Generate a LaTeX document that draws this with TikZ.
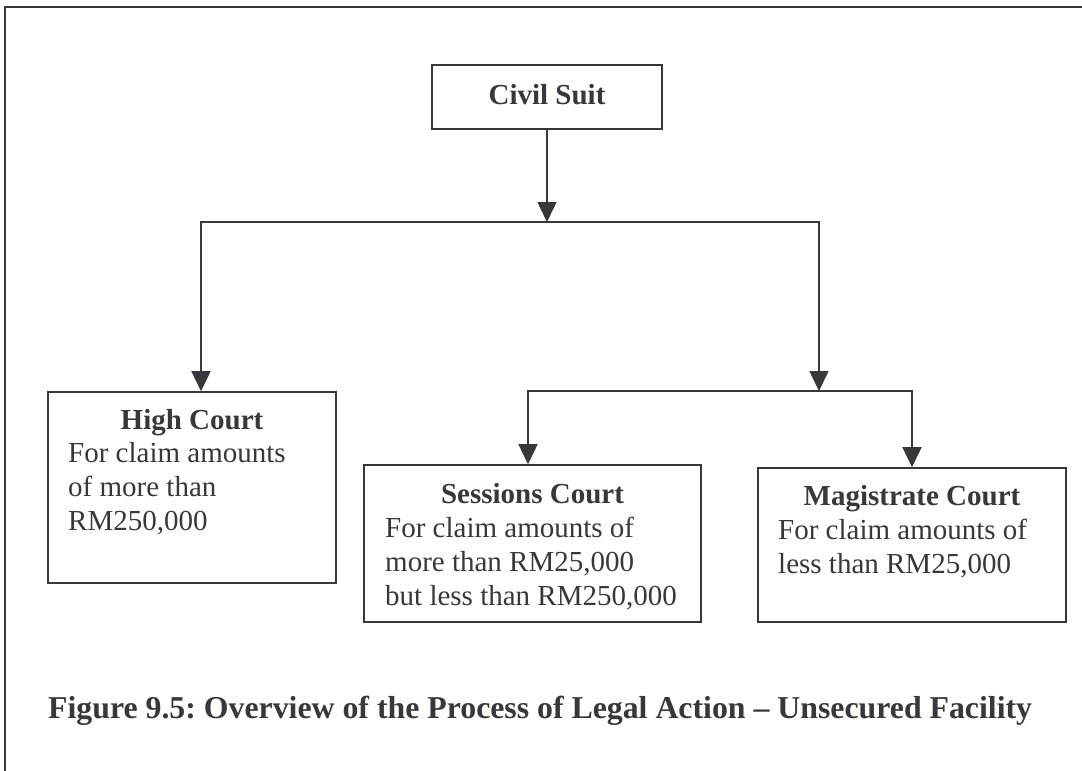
\documentclass[tikz,border=0pt]{standalone}
\usepackage{fontspec}
\setmainfont{Liberation Serif}
\usetikzlibrary{arrows.meta}
\definecolor{ink}{RGB}{55,55,60}
\frenchspacing
\begin{document}
\begin{tikzpicture}[x=1pt,y=-1pt,
  box/.style={draw=ink, line width=1.6pt, rectangle, inner sep=0pt},
  txt/.style={inner sep=0pt, text=ink, font=\fontsize{29}{34}\selectfont},
  ttl/.style={txt, anchor=base, font=\fontsize{29}{34}\selectfont\bfseries},
  body/.style={txt, anchor=base west},
  link/.style={draw=ink, line width=1.6pt},
  arr/.style={link, -{Triangle[width=19pt,length=20pt]}}]
\useasboundingbox (0,0) rectangle (1082,771);

% page frame (top and left edges only)
\draw[draw=ink, line width=2pt] (5,771) -- (5,7) -- (1082,7);

% boxes
\node[box, minimum width=230, minimum height=64] (civil) at (547,97) {};
\node[box, minimum width=288, minimum height=191] (high) at (192,487.5) {};
\node[box, minimum width=337, minimum height=157] (sess) at (532.5,543.5) {};
\node[box, minimum width=308, minimum height=154] (mag) at (912,545) {};

% box texts
\node[ttl] (civil-t) at (547,104) {Civil Suit};

\node[ttl] (high-t) at (192,429) {High Court};
\node[body] (high-b) at (68,462)
  {\vtop{\hbox{For claim amounts}\hbox{of more than}\hbox{RM250,000}}};

\node[ttl] (sess-t) at (532.5,503) {Sessions Court};
\node[body] (sess-b) at (385,537)
  {\vtop{\hbox{For claim amounts of}\hbox{more than RM25,000}\hbox{but less than RM250,000}}};

\node[ttl] (mag-t) at (912,505) {Magistrate Court};
\node[body] (mag-b) at (778,539)
  {\vtop{\hbox{For claim amounts of}\hbox{less than RM25,000}}};

% junction points
\coordinate (j1) at (547,222);
\coordinate (j1l) at (201,222);
\coordinate (j1r) at (819,222);
\coordinate (j2) at (819,391);
\coordinate (j2l) at (528,391);
\coordinate (j2r) at (912,391);

% connectors
\draw[arr] (civil.south) -- (j1);
\draw[arr] (j1) -- (j1l) -- (j1l |- high.north);
\draw[arr] (j1) -- (j1r) -- (j2);
\draw[arr] (j2) -- (j2l) -- (j2l |- sess.north);
\draw[arr] (j2) -- (j2r) -- (j2r |- mag.north);

% caption
\node[txt, anchor=base west, font=\fontsize{31.8}{36}\selectfont\bfseries] (caption) at (48,718)
  {Figure 9.5: Overview of the Process of Legal Action -- Unsecured Facility};
\end{tikzpicture}
\end{document}
